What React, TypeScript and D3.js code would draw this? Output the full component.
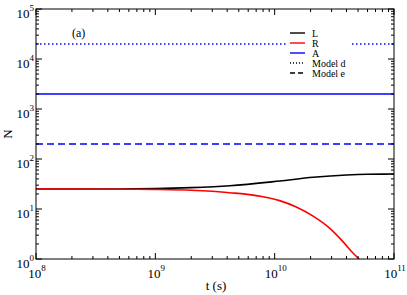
import { scaleLog, line, curveMonotoneX } from "d3";

// Data
const timeL = [1e8, 5e8, 1e9, 2e9, 4.2e9, 1.1e10, 2.1e10, 4e10, 6e10, 1e11];
const countL = [25, 25.2, 25.6, 26.8, 29.2, 36.3, 43, 47.9, 49.5, 50];
const timeR = [1e8, 5e8, 1e9, 2e9, 4.2e9, 8e9, 1.1e10, 1.5e10, 2.1e10, 2.9e10, 3.75e10, 4.55e10, 5.1e10];
const countR = [25, 24.9, 24.6, 23.7, 21.2, 17.6, 14.7, 11.1, 7.2, 4.1, 2.2, 1.3, 1.0];
const levelNames = ["Model d", "A", "Model e"];
const levelValues = [2e4, 2000, 200];
const legendLabels = ["L", "R", "A", "Model d", "Model e"];
const xMajor = [8, 9, 10, 11];
const yMajor = [0, 1, 2, 3, 4, 5];

const W = 407;
const H = 295;
const M = { left: 36, right: 394, top: 9, bottom: 259 };
const font = "Liberation Serif, Times New Roman, Times, serif";
const blue = "#0000ff";

const levelDash: Record<string, string | undefined> = {
  "Model d": "1.5,2.5",
  A: undefined,
  "Model e": "7,4",
};

const legendStyle: Record<string, { color: string; dash?: string }> = {
  L: { color: "#000" },
  R: { color: "#ff0000" },
  A: { color: blue },
  "Model d": { color: "#000", dash: "1,2" },
  "Model e": { color: "#000", dash: "5,3" },
};

export default function App() {
  const x = scaleLog().domain([1e8, 1e11]).range([M.left, M.right]);
  const y = scaleLog().domain([1, 1e5]).range([M.bottom, M.top]);

  const path = line<[number, number]>()
    .x((d) => x(d[0]))
    .y((d) => y(d[1]))
    .curve(curveMonotoneX);

  const lPts = timeL.map((t, i) => [t, countL[i]] as [number, number]);
  const rPts = timeR.map((t, i) => [t, countR[i]] as [number, number]);

  const xTicks = x.ticks();
  const yTicks = y.ticks();
  const isMajor = (v: number) => Math.abs(Math.log10(v) - Math.round(Math.log10(v))) < 1e-6;

  const legX = 290;
  const legY = 33;

  return (
    <svg
      width={W}
      height={H}
      style={{ position: "absolute", left: 0, top: 0, background: "#fff", fontFamily: font }}
    >
      <defs>
        <clipPath id="plot">
          <rect x={M.left} y={M.top} width={M.right - M.left} height={M.bottom - M.top} />
        </clipPath>
      </defs>

      <g clipPath="url(#plot)">
        {levelNames.map((n, i) => (
          <line
            key={n}
            x1={M.left}
            x2={M.right}
            y1={y(levelValues[i])}
            y2={y(levelValues[i])}
            stroke={blue}
            strokeWidth={1.6}
            strokeDasharray={levelDash[n]}
          />
        ))}
        <path d={path(lPts) ?? ""} fill="none" stroke="#000" strokeWidth={1.6} />
        <path d={path(rPts) ?? ""} fill="none" stroke="#ff0000" strokeWidth={1.6} />
      </g>

      {/* legend */}
      <rect x={286} y={27} width={64} height={52} fill="#fff" />
      {legendLabels.map((lab, i) => (
        <g key={lab}>
          <line
            x1={legX}
            x2={legX + 15}
            y1={legY + i * 10}
            y2={legY + i * 10}
            stroke={legendStyle[lab].color}
            strokeWidth={1.4}
            strokeDasharray={legendStyle[lab].dash}
          />
          <text x={legX + 22} y={legY + i * 10 + 3.5} fontSize={10}>
            {lab}
          </text>
        </g>
      ))}

      <text x={72} y={37} fontSize={12}>
        (a)
      </text>

      {/* frame */}
      <rect
        x={M.left}
        y={M.top}
        width={M.right - M.left}
        height={M.bottom - M.top}
        fill="none"
        stroke="#000"
        strokeWidth={1}
      />

      {/* x ticks */}
      {xTicks.map((t, i) => {
        const len = isMajor(t) ? 6 : 3;
        const px = x(t);
        return (
          <g key={"xt" + i} stroke="#000" strokeWidth={1}>
            <line x1={px} x2={px} y1={M.bottom} y2={M.bottom - len} />
            <line x1={px} x2={px} y1={M.top} y2={M.top + len} />
          </g>
        );
      })}
      {/* y ticks */}
      {yTicks.map((t, i) => {
        const len = isMajor(t) ? 6 : 3;
        const py = y(t);
        return (
          <g key={"yt" + i} stroke="#000" strokeWidth={1}>
            <line x1={M.left} x2={M.left + len} y1={py} y2={py} />
            <line x1={M.right} x2={M.right - len} y1={py} y2={py} />
          </g>
        );
      })}

      {xMajor.map((e) => (
        <text key={"xl" + e} x={x(Math.pow(10, e)) + 1} y={278} fontSize={13} textAnchor="middle">
          10
          <tspan dy={-7} fontSize={9}>
            {e}
          </tspan>
        </text>
      ))}
      {yMajor.map((e) => (
        <text
          key={"yl" + e}
          x={34}
          y={y(Math.pow(10, e)) + 8.5}
          fontSize={13}
          textAnchor="end"
        >
          10
          <tspan dy={-7} fontSize={9}>
            {e}
          </tspan>
        </text>
      ))}

      <text x={216} y={290} fontSize={13} textAnchor="middle">
        t (s)
      </text>
      <text
        transform={`translate(12, ${(M.top + M.bottom) / 2}) rotate(-90)`}
        fontSize={13}
        textAnchor="middle"
      >
        N
      </text>
    </svg>
  );
}
